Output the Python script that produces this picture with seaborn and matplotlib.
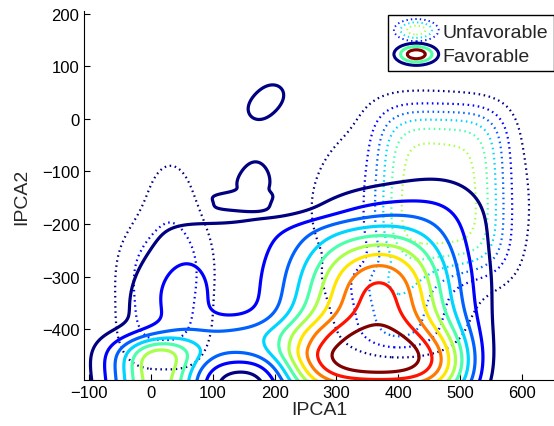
import numpy as np
import matplotlib
matplotlib.use("Agg")
import matplotlib.pyplot as plt
import seaborn as sns
from matplotlib.patches import Ellipse
from matplotlib.legend_handler import HandlerBase

# density clusters: centre, spread, height, edge sharpness (x and y)
fav_x = [372, 366, 150, 10, -80, -10, 55, 160, 480, 202, 170, 135, 150, 170]
fav_y = [-320, -470, -430, -500, -460, -350, -330, -300, -170, 52, 12, -158, -130, -105]
fav_sx = [85, 127, 80, 50, 30, 45, 35, 135, 60, 30, 30, 50, 40, 22]
fav_sy = [90, 60, 30, 70, 60, 80, 60, 105, 60, 32, 32, 16, 30, 35]
fav_h = [8.7, 8.4, 3.0, 6.4, 0.4, 0.9, 1.0, 1.35, 1.0, 0.92, 0.92, 0.9, 0.7, 1.0]
fav_px = [2, 4, 2, 2, 2, 2, 2, 4, 2, 2, 2, 3, 2, 2]
fav_py = [2, 2, 2, 4, 2, 2, 2, 8, 2, 2, 2, 4, 2, 2]

unf_x = [470, 430, 400, 30, 20]
unf_y = [-135, -170, -360, -165, -345]
unf_sx = [84, 150, 55, 40, 65]
unf_sy = [132, 165, 70, 90, 110]
unf_h = [4.9, 1.9, 2.8, 1.35, 2.3]
unf_px = [4, 2, 2, 2, 3]
unf_py = [5, 2, 4, 2, 3]

levels = [1, 2, 3, 4, 5, 6, 7, 8, 9, 10]
xticks = [-100, 0, 100, 200, 300, 400, 500, 600]
yticks = [-400, -300, -200, -100, 0, 100, 200]


def density(X, Y, cx, cy, sx, sy, h, px, py):
    Z = np.zeros_like(X)
    for a, b, c, d, e, m, n in zip(cx, cy, sx, sy, h, px, py):
        Z += e * np.exp(-0.5 * (np.abs((X - a) / c) ** m + np.abs((Y - b) / d) ** n))
    return Z


class RingHandler(HandlerBase):
    def __init__(self, colors, ls, lw):
        super().__init__()
        self.colors = colors
        self.ls = ls
        self.lw = lw

    def create_artists(self, legend, orig_handle, xdescent, ydescent,
                       width, height, fontsize, trans):
        cx = width / 2 - xdescent
        cy = height / 2 - ydescent
        arts = []
        for k, col in enumerate(self.colors):
            f = 1 - 0.3 * k
            e = Ellipse((cx, cy), width * f, height * 1.15 * f, fill=False,
                        edgecolor=col, lw=self.lw, ls=self.ls)
            e.set_transform(trans)
            arts.append(e)
        return arts


sns.set_style("ticks", {"xtick.direction": "in", "ytick.direction": "in"})
plt.rcParams["font.family"] = ["Liberation Sans", "DejaVu Sans"]

cmap = matplotlib.colormaps["jet"]

gx = np.linspace(-120, 670, 500)
gy = np.linspace(-510, 220, 500)
X, Y = np.meshgrid(gx, gy)
F = density(X, Y, fav_x, fav_y, fav_sx, fav_sy, fav_h, fav_px, fav_py)
U = density(X, Y, unf_x, unf_y, unf_sx, unf_sy, unf_h, unf_px, unf_py)

fig = plt.figure(figsize=(5.54, 4.27), dpi=100)
ax = fig.add_axes([0.152, 0.108, 0.848, 0.864])

ax.contour(X, Y, U, levels=levels, cmap=cmap, vmin=1, vmax=10,
           linewidths=1.6, linestyles=[(0, (0.7, 1.6))])
ax.contour(X, Y, F, levels=levels, cmap=cmap, vmin=1, vmax=10,
           linewidths=2.3, linestyles="solid")

ax.set_xlim(-108, 652)
ax.set_ylim(-496, 205)
ax.set_xticks(xticks)
ax.set_yticks(yticks)
ax.set_xticklabels([str(t).replace("-", "\u2212") for t in xticks])
ax.set_yticklabels([str(t).replace("-", "\u2212") for t in yticks])
ax.tick_params(labelsize=12, length=4, width=0.8, colors="black")
ax.set_xlabel("IPCA1", fontsize=14, labelpad=1)
ax.set_ylabel("IPCA2", fontsize=14, labelpad=8)
sns.despine(ax=ax)
for s in ["left", "bottom"]:
    ax.spines[s].set_color("black")
    ax.spines[s].set_linewidth(0.8)

h_unf = plt.Line2D([], [])
h_fav = plt.Line2D([], [])
leg = ax.legend([h_unf, h_fav], ["Unfavorable", "Favorable"],
                handler_map={
                    h_unf: RingHandler([cmap(0.15), cmap(0.35), cmap(0.55)], (0, (0.7, 1.6)), 1.4),
                    h_fav: RingHandler([cmap(0.0), cmap(0.45), cmap(1.0)], "solid", 2.2)},
                loc="upper right", bbox_to_anchor=(1.0, 0.99), borderaxespad=0,
                fontsize=14, handlelength=2.3, handleheight=1.15, handletextpad=0.2,
                labelspacing=0.2, borderpad=0.3, fancybox=False, framealpha=1)
leg.get_frame().set_edgecolor("black")
leg.get_frame().set_linewidth(1.0)

fig.savefig("out.png", dpi=100)
